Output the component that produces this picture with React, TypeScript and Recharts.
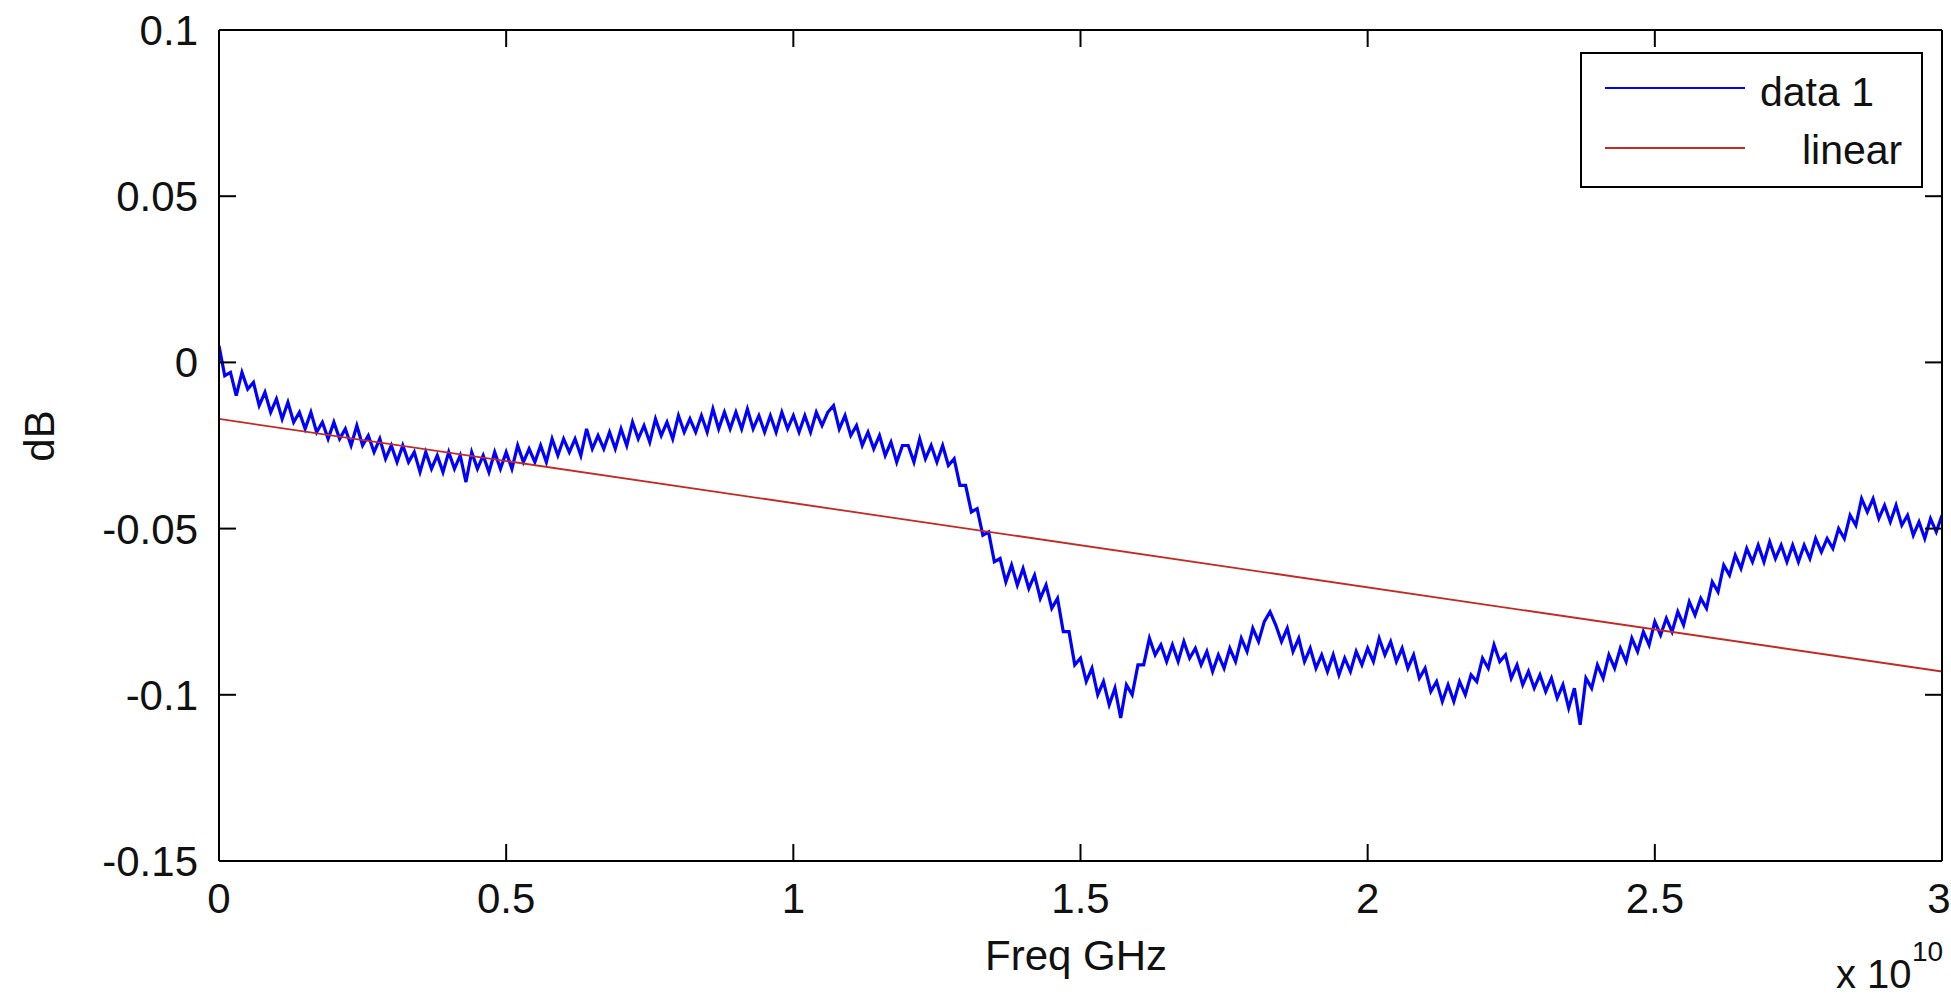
import { Line, LineChart, XAxis, YAxis } from "recharts";

// frequency axis is in units of 10^10 Hz, one sample every 0.01
const FREQ_STEP = 0.01;

const DATA1_DB = [
  0.005, -0.004, -0.003, -0.010, -0.003, -0.008, -0.006, -0.013, -0.009, -0.015,
  -0.011, -0.017, -0.012, -0.018, -0.015, -0.020, -0.015, -0.021, -0.018, -0.023,
  -0.018, -0.023, -0.020, -0.025, -0.019, -0.025, -0.022, -0.027, -0.023, -0.029,
  -0.025, -0.030, -0.025, -0.030, -0.027, -0.033, -0.027, -0.032, -0.028, -0.033,
  -0.027, -0.032, -0.028, -0.036, -0.027, -0.032, -0.028, -0.033, -0.027, -0.032,
  -0.027, -0.032, -0.025, -0.030, -0.026, -0.030, -0.025, -0.030, -0.023, -0.028,
  -0.023, -0.027, -0.023, -0.028, -0.020, -0.026, -0.022, -0.026, -0.021, -0.026,
  -0.020, -0.025, -0.018, -0.023, -0.019, -0.024, -0.017, -0.022, -0.018, -0.023,
  -0.016, -0.021, -0.017, -0.021, -0.016, -0.021, -0.014, -0.020, -0.015, -0.020,
  -0.015, -0.020, -0.014, -0.020, -0.016, -0.021, -0.016, -0.021, -0.015, -0.020,
  -0.016, -0.021, -0.016, -0.021, -0.015, -0.019, -0.015, -0.013, -0.020, -0.016,
  -0.022, -0.019, -0.025, -0.021, -0.026, -0.022, -0.028, -0.024, -0.030, -0.025,
  -0.025, -0.030, -0.023, -0.029, -0.025, -0.030, -0.025, -0.031, -0.029, -0.037,
  -0.037, -0.045, -0.044, -0.052, -0.051, -0.060, -0.059, -0.066, -0.061, -0.067,
  -0.062, -0.068, -0.064, -0.071, -0.067, -0.074, -0.071, -0.081, -0.081, -0.091,
  -0.089, -0.096, -0.092, -0.100, -0.096, -0.103, -0.098, -0.107, -0.097, -0.100,
  -0.091, -0.091, -0.083, -0.088, -0.085, -0.090, -0.085, -0.090, -0.084, -0.089,
  -0.086, -0.091, -0.087, -0.093, -0.088, -0.092, -0.086, -0.090, -0.083, -0.087,
  -0.080, -0.084, -0.078, -0.075, -0.079, -0.084, -0.080, -0.087, -0.083, -0.090,
  -0.086, -0.092, -0.088, -0.093, -0.088, -0.094, -0.089, -0.093, -0.087, -0.091,
  -0.086, -0.090, -0.083, -0.088, -0.084, -0.090, -0.086, -0.092, -0.088, -0.095,
  -0.092, -0.099, -0.096, -0.102, -0.097, -0.102, -0.096, -0.100, -0.094, -0.096,
  -0.089, -0.092, -0.085, -0.090, -0.088, -0.095, -0.091, -0.097, -0.093, -0.098,
  -0.094, -0.099, -0.095, -0.101, -0.097, -0.104, -0.098, -0.109, -0.095, -0.098,
  -0.091, -0.095, -0.088, -0.092, -0.086, -0.090, -0.083, -0.087, -0.081, -0.085,
  -0.078, -0.082, -0.077, -0.081, -0.075, -0.079, -0.072, -0.076, -0.071, -0.074,
  -0.066, -0.069, -0.061, -0.064, -0.058, -0.062, -0.056, -0.060, -0.055, -0.060,
  -0.054, -0.059, -0.055, -0.060, -0.055, -0.060, -0.055, -0.059, -0.053, -0.057,
  -0.053, -0.056, -0.050, -0.053, -0.046, -0.049, -0.041, -0.045, -0.041, -0.047,
  -0.043, -0.048, -0.043, -0.049, -0.046, -0.052, -0.048, -0.053, -0.047, -0.051,
  -0.046,
];

const LINEAR_FREQ = [0, 3];
const LINEAR_DB = [-0.017, -0.093];

const X_DOMAIN: [number, number] = [0, 3];
const Y_DOMAIN: [number, number] = [-0.15, 0.1];
const X_TICKS = [0, 0.5, 1, 1.5, 2, 2.5, 3];
const X_TICK_LABELS = ["0", "0.5", "1", "1.5", "2", "2.5", "3"];
const Y_TICKS = [-0.15, -0.1, -0.05, 0, 0.05, 0.1];
const Y_TICK_LABELS = ["-0.15", "-0.1", "-0.05", "0", "0.05", "0.1"];

const BLUE = "#0000ff";
const RED = "#c42a22";

const LEGEND = [
  { name: "data 1", color: BLUE, textLeft: 178, lineTop: 33, textTop: 18 },
  { name: "linear", color: RED, textLeft: 220, lineTop: 93, textTop: 76 },
];

const FONT = "'Liberation Sans', Arial, Helvetica, sans-serif";
const TEXT = "#111";

// plot box in page px (axis sizes below give the same box)
const PLOT_LEFT = 219;
const PLOT_TOP = 30;
const PLOT_W = 1723;
const PLOT_H = 831;
const TICK_LEN = 17;

const data1 = DATA1_DB.map((db, i) => ({
  freq: Math.round(i * FREQ_STEP * 100) / 100,
  db,
}));
const linearData = LINEAR_FREQ.map((freq, i) => ({ freq, db: LINEAR_DB[i] }));

const axisStyle = { stroke: "#000", strokeWidth: 2 };

function BottomTick(props: any) {
  const { x, y, payload, index } = props;
  const last = index === X_TICKS.length - 1;
  return (
    <text
      x={last ? x - 3 : x}
      y={y + 52}
      textAnchor="middle"
      fontSize={42}
      fontFamily={FONT}
      fill={TEXT}
    >
      {X_TICK_LABELS[X_TICKS.indexOf(payload.value)]}
    </text>
  );
}

function LeftTick(props: any) {
  const { x, y, payload } = props;
  return (
    <text
      x={x - 21}
      y={y + 15}
      textAnchor="end"
      fontSize={42}
      fontFamily={FONT}
      fill={TEXT}
    >
      {Y_TICK_LABELS[Y_TICKS.indexOf(payload.value)]}
    </text>
  );
}

// matlab style inward tick marks on all four sides of the box
function TickMarks() {
  const xs = X_TICKS.map(
    (t) => PLOT_LEFT + ((t - X_DOMAIN[0]) / (X_DOMAIN[1] - X_DOMAIN[0])) * PLOT_W
  );
  const ys = Y_TICKS.map(
    (t) => PLOT_TOP + ((Y_DOMAIN[1] - t) / (Y_DOMAIN[1] - Y_DOMAIN[0])) * PLOT_H
  );
  const bottom = PLOT_TOP + PLOT_H;
  const right = PLOT_LEFT + PLOT_W;
  return (
    <svg
      width={1951}
      height={997}
      style={{ position: "absolute", left: 0, top: 0, pointerEvents: "none" }}
    >
      <g stroke="#000" strokeWidth={2}>
        {xs.map((x, i) => (
          <g key={`x${i}`}>
            <line x1={x} x2={x} y1={bottom} y2={bottom - TICK_LEN} />
            <line x1={x} x2={x} y1={PLOT_TOP} y2={PLOT_TOP + TICK_LEN} />
          </g>
        ))}
        {ys.map((y, i) => (
          <g key={`y${i}`}>
            <line x1={PLOT_LEFT} x2={PLOT_LEFT + TICK_LEN} y1={y} y2={y} />
            <line x1={right} x2={right - TICK_LEN} y1={y} y2={y} />
          </g>
        ))}
      </g>
    </svg>
  );
}

export default function App() {
  return (
    <div
      style={{
        position: "absolute",
        left: 0,
        top: 0,
        width: 1951,
        height: 997,
        background: "#fff",
        fontFamily: FONT,
        overflow: "hidden",
      }}
    >
      <LineChart
        width={1951}
        height={997}
        margin={{ top: 0, right: 0, bottom: 0, left: 0 }}
      >
        <XAxis
          xAxisId="bottom"
          type="number"
          dataKey="freq"
          domain={X_DOMAIN}
          ticks={X_TICKS}
          interval={0}
          height={136}
          tickSize={0}
          tickMargin={0}
          axisLine={axisStyle}
          tickLine={false}
          tick={BottomTick}
          allowDataOverflow
        />
        <XAxis
          xAxisId="top"
          orientation="top"
          type="number"
          dataKey="freq"
          domain={X_DOMAIN}
          ticks={X_TICKS}
          height={30}
          axisLine={axisStyle}
          tickLine={false}
          tick={false}
          allowDataOverflow
        />
        <YAxis
          yAxisId="left"
          type="number"
          domain={Y_DOMAIN}
          ticks={Y_TICKS}
          interval={0}
          width={219}
          tickSize={0}
          tickMargin={0}
          axisLine={axisStyle}
          tickLine={false}
          tick={LeftTick}
          allowDataOverflow
        />
        <YAxis
          yAxisId="right"
          orientation="right"
          type="number"
          domain={Y_DOMAIN}
          ticks={Y_TICKS}
          width={9}
          axisLine={axisStyle}
          tickLine={false}
          tick={false}
          allowDataOverflow
        />
        <Line
          xAxisId="bottom"
          yAxisId="left"
          data={data1}
          dataKey="db"
          name="data 1"
          type="linear"
          stroke={BLUE}
          strokeWidth={3.2}
          dot={false}
          isAnimationActive={false}
        />
        <Line
          xAxisId="bottom"
          yAxisId="left"
          data={linearData}
          dataKey="db"
          name="linear"
          type="linear"
          stroke={RED}
          strokeWidth={1.8}
          dot={false}
          isAnimationActive={false}
        />
      </LineChart>

      <TickMarks />

      {/* axis labels */}
      <div
        style={{
          position: "absolute",
          left: 40,
          top: 436,
          fontSize: 42,
          lineHeight: "42px",
          color: TEXT,
          transform: "translate(-50%, -50%) rotate(-90deg)",
          whiteSpace: "nowrap",
        }}
      >
        dB
      </div>
      <div
        style={{
          position: "absolute",
          left: 1076,
          top: 935,
          fontSize: 42,
          lineHeight: "42px",
          color: TEXT,
          transform: "translateX(-50%)",
          whiteSpace: "nowrap",
        }}
      >
        Freq GHz
      </div>
      <div
        style={{
          position: "absolute",
          left: 1836,
          top: 959,
          fontSize: 40,
          lineHeight: "30px",
          color: TEXT,
          whiteSpace: "nowrap",
        }}
      >
        x 10
        <span
          style={{
            position: "absolute",
            left: 76,
            top: -21,
            fontSize: 28,
            lineHeight: "28px",
          }}
        >
          10
        </span>
      </div>

      {/* legend */}
      <div
        style={{
          position: "absolute",
          left: 1580,
          top: 52,
          width: 343,
          height: 136,
          border: "2px solid #000",
          boxSizing: "border-box",
          background: "#fff",
        }}
      >
        {LEGEND.map((item) => (
          <div key={item.name}>
            <div
              style={{
                position: "absolute",
                left: 23,
                top: item.lineTop,
                width: 140,
                height: 2,
                background: item.color,
              }}
            />
            <div
              style={{
                position: "absolute",
                left: item.textLeft,
                top: item.textTop,
                fontSize: 41,
                lineHeight: "41px",
                color: TEXT,
                whiteSpace: "nowrap",
              }}
            >
              {item.name}
            </div>
          </div>
        ))}
      </div>
    </div>
  );
}
